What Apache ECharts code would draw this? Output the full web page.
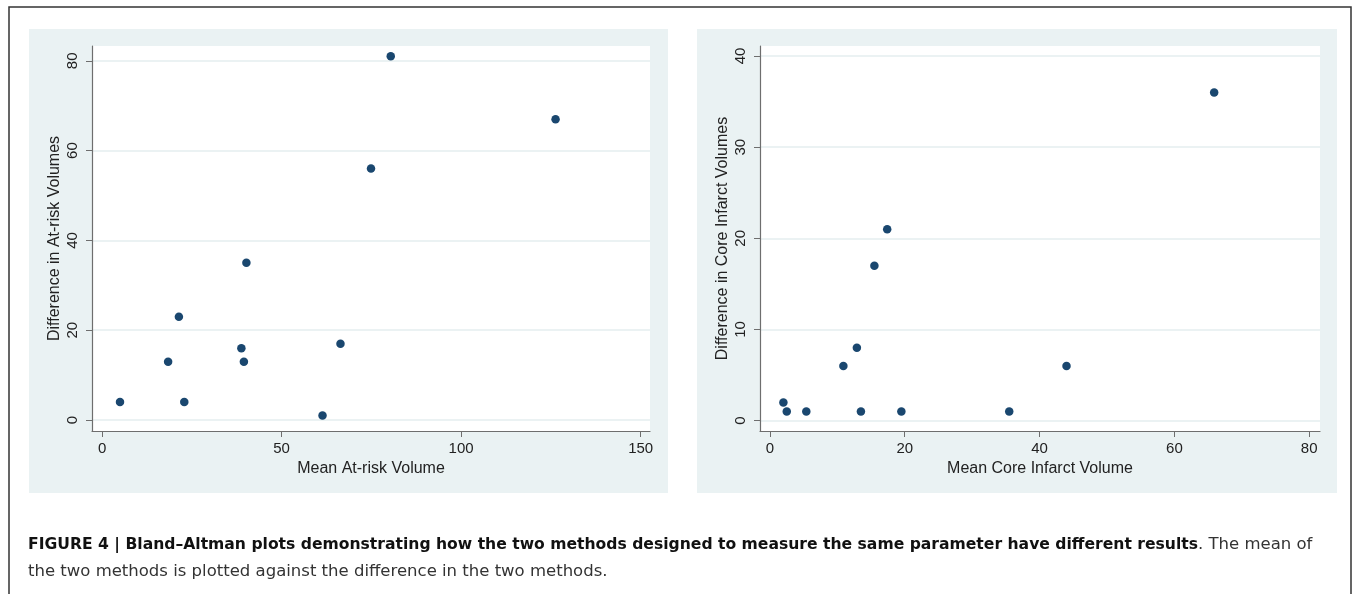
<!DOCTYPE html>
<html>
<head>
<meta charset="utf-8">
<script src="https://cdn.jsdelivr.net/npm/echarts@6/dist/echarts.min.js"></script>
<style>
  html, body { margin: 0; padding: 0; background: #fff; }
  #chart { width: 1355px; height: 594px; }
</style>
</head>
<body>
<div id="chart"></div>
<script>
// left panel: at-risk volumes
var atRiskMean = [5, 18.4, 21.4, 22.9, 38.8, 39.5, 40.2, 61.4, 66.4, 74.9, 80.4, 126.3];
var atRiskDiff = [4, 13, 23, 4, 16, 13, 35, 1, 17, 56, 81, 67];
var atRiskXTicks = [0, 50, 100, 150];
var atRiskYTicks = [0, 20, 40, 60, 80];

// right panel: core infarct volumes
var coreMean = [2, 2.5, 5.4, 10.9, 12.9, 13.5, 15.5, 17.4, 19.5, 35.5, 44, 65.9];
var coreDiff = [2, 1, 1, 6, 8, 1, 17, 21, 1, 1, 6, 36];
var coreXTicks = [0, 20, 40, 60, 80];
var coreYTicks = [0, 10, 20, 30, 40];

var FONT = "Liberation Sans";
var CAPTION_FONT = "DejaVu Sans";
var NAVY = "#1a476f";
var PANEL = "#eaf2f3";

function pairs(xs, ys) {
  return xs.map(function (x, i) { return [x, ys[i]]; });
}

function xAxisFor(idx, name, ticks, min, max) {
  return {
    type: "value", gridIndex: idx, min: min, max: max,
    name: name, nameLocation: "middle", nameGap: 23,
    nameTextStyle: { fontFamily: FONT, fontSize: 16, color: "#222" },
    axisLine: { show: true, onZero: false, lineStyle: { color: "#6e6e6e", width: 1.2 } },
    axisTick: { show: true, length: 6, customValues: ticks, lineStyle: { color: "#6e6e6e" } },
    axisLabel: { customValues: ticks, margin: 10, fontFamily: FONT, fontSize: 15, color: "#222" },
    splitLine: { show: false }
  };
}

function yAxisFor(idx, name, ticks, min, max) {
  return {
    type: "value", gridIndex: idx, min: min, max: max,
    name: name, nameLocation: "middle", nameGap: 29, nameRotate: 90,
    nameTextStyle: { fontFamily: FONT, fontSize: 16, color: "#222" },
    axisLine: { show: true, onZero: false, lineStyle: { color: "#6e6e6e", width: 1.2 } },
    axisTick: { show: true, length: 6, customValues: ticks, lineStyle: { color: "#6e6e6e" } },
    axisLabel: { customValues: ticks, rotate: 90, margin: 12, fontFamily: FONT, fontSize: 15, color: "#222" },
    splitLine: { show: true, lineStyle: { color: "#e4eeef", width: 1.5 } }
  };
}

var chart = echarts.init(document.getElementById("chart"), null, { renderer: "canvas" });

chart.setOption({
  animation: false,
  backgroundColor: "#fff",
  graphic: [
    { type: "rect", shape: { x: 9, y: 7, width: 1342, height: 600 }, style: { fill: null, stroke: "#333", lineWidth: 1.5 }, z: -10 },
    { type: "rect", shape: { x: 29, y: 29, width: 639, height: 464 }, style: { fill: PANEL }, z: -9 },
    { type: "rect", shape: { x: 697, y: 29, width: 640, height: 464 }, style: { fill: PANEL }, z: -9 },
    {
      type: "text", left: 28, top: 536,
      style: {
        text: "{b|FIGURE 4 | Bland–Altman plots demonstrating how the two methods designed to measure the same parameter have different results}{r|. The mean of}\n{r|the two methods is plotted against the difference in the two methods.}",
        rich: {
          b: { fontFamily: CAPTION_FONT, fontSize: 15.6, fontWeight: "bold", fill: "#111", lineHeight: 27 },
          r: { fontFamily: CAPTION_FONT, fontSize: 16.5, fill: "#333", lineHeight: 27 }
        }
      }
    }
  ],
  grid: [
    { left: 92, top: 46, width: 558, height: 385, show: true, backgroundColor: "#fff", borderWidth: 0 },
    { left: 760, top: 46, width: 560, height: 385, show: true, backgroundColor: "#fff", borderWidth: 0 }
  ],
  xAxis: [
    xAxisFor(0, "Mean At-risk Volume", atRiskXTicks, -2.8, 152.6),
    xAxisFor(1, "Mean Core Infarct Volume", coreXTicks, -1.47, 81.6)
  ],
  yAxis: [
    yAxisFor(0, "Difference in At-risk Volumes", atRiskYTicks, -2.45, 83.3),
    yAxisFor(1, "Difference in Core Infarct Volumes", coreYTicks, -1.13, 41.1)
  ],
  series: [
    { type: "scatter", xAxisIndex: 0, yAxisIndex: 0, symbolSize: 8.5, itemStyle: { color: NAVY, opacity: 1 }, data: pairs(atRiskMean, atRiskDiff) },
    { type: "scatter", xAxisIndex: 1, yAxisIndex: 1, symbolSize: 8.5, itemStyle: { color: NAVY, opacity: 1 }, data: pairs(coreMean, coreDiff) }
  ]
});
</script>
</body>
</html>
